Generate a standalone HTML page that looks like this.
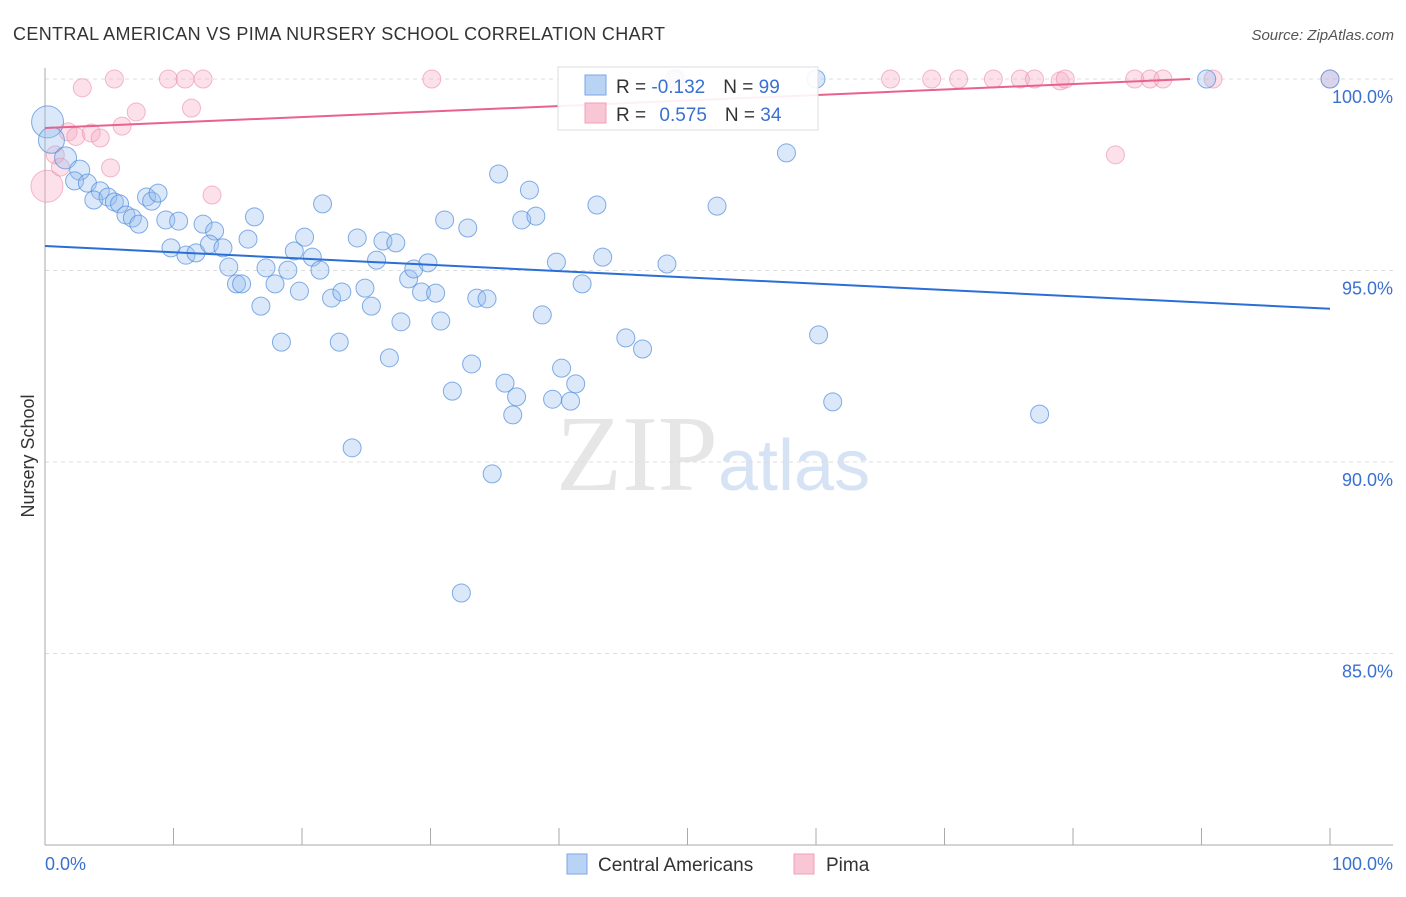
<!DOCTYPE html>
<html><head><meta charset="utf-8"><style>
body{margin:0;background:#fff;font-family:"Liberation Sans",sans-serif;}
</style></head><body>
<svg id="chart" width="1406" height="892" xmlns="http://www.w3.org/2000/svg" font-family="Liberation Sans, sans-serif">
<text x="13" y="40" font-size="18" fill="#333" textLength="652">CENTRAL AMERICAN VS PIMA NURSERY SCHOOL CORRELATION CHART</text>
<text x="1394" y="40" font-size="15" fill="#555" text-anchor="end" font-style="italic">Source: ZipAtlas.com</text>
<text x="718" y="490" font-size="108" text-anchor="end" fill="#e6e6e6" font-family="Liberation Serif, serif">ZIP</text>
<text x="718" y="490" font-size="72" fill="#d6e3f5">atlas</text>
<g id="grid"></g>
<g id="axes"></g>
<g id="points"></g>
<g id="trends"></g>
<text transform="translate(34,456) rotate(-90)" font-size="18" fill="#333" text-anchor="middle">Nursery School</text>
<text x="45" y="870" font-size="18" fill="#3a70d0">0.0%</text>
<text x="1393" y="870" font-size="18" fill="#3a70d0" text-anchor="end">100.0%</text>
<g>
<rect x="558" y="67" width="260" height="63" fill="#fff" fill-opacity="0.9" stroke="#ddd"/>
<rect x="585" y="75" width="21" height="20" fill="#b9d3f5" stroke="#7aa6e6"/>
<text x="616" y="93" font-size="19" fill="#333">R = <tspan fill="#3a70d0">-0.132</tspan><tspan dx="18">N = </tspan><tspan fill="#3a70d0">99</tspan></text>
<rect x="585" y="103" width="21" height="20" fill="#f9c6d5" stroke="#f0a0b8"/>
<text x="616" y="121" font-size="19" fill="#333">R = <tspan dx="8" fill="#3a70d0">0.575</tspan><tspan dx="18">N = </tspan><tspan fill="#3a70d0">34</tspan></text>
</g>
<g>
<rect x="567" y="854" width="20" height="20" fill="#b9d3f5" stroke="#7aa6e6"/>
<text x="598" y="871" font-size="19" fill="#333">Central Americans</text>
<rect x="794" y="854" width="20" height="20" fill="#f9c6d5" stroke="#f0a0b8"/>
<text x="826" y="871" font-size="19" fill="#333">Pima</text>
</g>
</svg>
<script>
const yTicks=[100,95,90,85];
const yTickLabels=["100.0%","95.0%","90.0%","85.0%"];
const xTicks=[0,10,20,30,40,50,60,70,80,90,100];
const blueX=[0.2,0.5,1.6,2.7,2.3,3.3,4.3,3.8,4.9,5.4,5.8,6.3,6.8,7.3,7.9,8.3,8.8,9.4,10.4,9.8,10.97,11.75,12.3,13.2,12.8,13.85,16.3,15.8,14.3,14.9,15.3,17.2,17.9,18.9,16.8,18.4,19.4,20.2,20.8,21.4,19.8,21.6,22.3,23.1,22.9,24.3,24.9,25.4,25.8,26.3,27.3,23.9,26.8,27.7,28.3,28.7,29.3,29.8,30.4,30.8,31.1,32.9,31.7,33.2,33.6,34.4,35.3,35.8,36.7,36.4,34.8,32.4,37.1,37.7,38.2,38.7,39.5,39.8,40.2,40.9,41.3,41.8,42.95,43.4,45.2,46.5,48.4,49.0,52.3,57.7,60.0,60.2,61.3,77.4,90.4,100];
const blueY=[98.88,98.4,97.94,97.62,97.34,97.28,97.08,96.84,96.92,96.79,96.74,96.45,96.37,96.21,96.92,96.81,97.02,96.32,96.29,95.59,95.4,95.46,96.21,96.03,95.69,95.59,96.4,95.82,95.09,94.65,94.65,95.07,94.65,95.01,94.07,93.13,95.51,95.87,95.35,95.01,94.46,96.74,94.28,94.44,93.13,95.85,94.54,94.07,95.27,95.77,95.72,90.37,92.72,93.66,94.78,95.04,94.44,95.2,94.41,93.68,96.32,96.11,91.85,92.56,94.28,94.26,97.52,92.06,91.7,91.23,89.69,86.58,96.32,97.1,96.42,93.84,91.64,95.22,92.45,91.59,92.04,94.65,96.71,95.35,93.24,92.95,95.17,100,96.68,98.07,100,93.32,91.57,91.25,100,100];
const blueR=[16,13,11,10];
const pinkX=[0.15,0.8,1.2,1.8,2.4,2.9,3.6,4.3,5.1,5.4,6.0,7.1,9.6,10.9,12.3,11.4,13.0,30.1,49.2,65.8,69.0,71.1,73.8,75.9,77.0,79.0,79.4,83.3,84.8,86.0,87.0,90.9,100];
const pinkY=[97.2,98.02,97.7,98.62,98.5,99.77,98.59,98.46,97.68,100,98.77,99.14,100,100,100,99.24,96.97,100,100,100,100,100,100,100,100,99.95,100,98.02,100,100,100,100,100];
const pinkR=[16];
const blueTrend=[[0,95.64],[100,94.0]];
const pinkTrend=[[0,98.72],[89.1,100]];
const NS="http://www.w3.org/2000/svg";
const xs=v=>45+v*12.85;
const ys=v=>79+(100-v)*38.3;
function mk(tag,attrs,parent){const e=document.createElementNS(NS,tag);for(const k in attrs)e.setAttribute(k,attrs[k]);document.getElementById(parent).appendChild(e);return e;}
yTicks.forEach((t,i)=>{
 const l=mk('line',{x1:45,x2:1393,y1:ys(t),y2:ys(t),stroke:'#ddd','stroke-dasharray':'4,4'},'grid');
 
 
 const tx=mk('text',{x:1393,y:ys(t)+24,'font-size':18,fill:'#3a70d0','text-anchor':'end'},'grid');
 tx.textContent=yTickLabels[i];
 
 
});
let a=mk('line',{x1:45,x2:45,y1:68,y2:845,stroke:'#aaa'},'axes');


a=mk('line',{x1:45,x2:1393,y1:845,y2:845,stroke:'#aaa'},'axes');


xTicks.forEach(t=>{
 const l=mk('line',{x1:xs(t),x2:xs(t),y1:828,y2:845,stroke:'#aaa'},'axes');
 
 
});
pinkX.forEach((x,i)=>{
 const c=mk('circle',{cx:xs(x),cy:ys(pinkY[i]),r:pinkR[i]||9,fill:'rgba(246,170,195,0.35)',stroke:'rgba(236,140,170,0.6)','stroke-width':1},'points');
 
 
});
blueX.forEach((x,i)=>{
 const c=mk('circle',{cx:xs(x),cy:ys(blueY[i]),r:blueR[i]||9,fill:'rgba(150,190,238,0.35)',stroke:'rgba(80,140,220,0.7)','stroke-width':1},'points');
 
 
});
let t=mk('line',{x1:xs(blueTrend[0][0]),y1:ys(blueTrend[0][1]),x2:xs(blueTrend[1][0]),y2:ys(blueTrend[1][1]),stroke:'#2a6fd6','stroke-width':2},'trends');


t=mk('line',{x1:xs(pinkTrend[0][0]),y1:ys(pinkTrend[0][1]),x2:xs(pinkTrend[1][0]),y2:ys(pinkTrend[1][1]),stroke:'#e8628c','stroke-width':2},'trends');


</script>
</body></html>
